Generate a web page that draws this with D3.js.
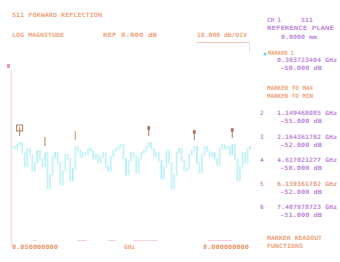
<!DOCTYPE html>
<html>
<head>
<meta charset="utf-8">
<script src="https://cdn.jsdelivr.net/npm/d3@7"></script>
<style>
  html, body { margin: 0; padding: 0; background: #fff; }
  svg { display: block; }
  text { font-family: "DejaVu Sans Mono", monospace; font-weight: bold; font-size: 6px; }
</style>
</head>
<body>
<svg id="chart" width="340" height="262"></svg>
<script>
// sweep settings
const startGHz = 0.05;
const stopGHz = 8.0;
const refDb = 0;
const dbPerDiv = 10;

// S11 log magnitude trace, dB, one value per sweep point
const traceDb = [
  -52, -53, -51, -50, -55, -62, -53, -56, -64, -60,
  -54, -58, -62, -55, -73, -66, -57, -55, -60, -71,
  -64, -56, -58, -69, -63, -52, -54, -57, -55, -56,
  -53, -54, -58, -56, -60, -57, -55, -62, -64, -57,
  -54, -53, -52, -51, -58, -66, -59, -55, -57, -65,
  -58, -55, -54, -52, -50, -53, -57, -55, -59, -68,
  -62, -54, -60, -73, -66, -55, -53, -59, -64, -63,
  -56, -54, -52, -60, -65, -56, -52, -54, -57, -55,
  -58, -61, -53, -51, -53, -52, -56, -51, -58, -69,
  -62, -55, -60, -53, -52
];

// sweep point index of markers 1..6
const markerIdx = [3, 13, 25, 54, 72, 87];

const channelLines = ['CH 1', 'S11', 'REFERENCE PLANE', '0.0000 mm'];
const menuLines = ['MARKER TO MAX', 'MARKER TO MIN'];
const footLines = ['MARKER READOUT', 'FUNCTIONS'];

const orange = '#f0a47c';
const purple = '#c088dc';
const svg = d3.select('#chart');

const n = traceDb.length;
const freqAt = (i) => startGHz + i * (stopGHz - startGHz) / (n - 1);

const x = d3.scaleLinear().domain([startGHz, stopGHz]).range([12, 250]);
const y = d3.scaleLinear().domain([refDb, refDb - 10 * dbPerDiv]).range([42, 242]);

function label(txt, px, py, color, w) {
  const t = svg.append('text')
      .attr('x', px)
      .attr('y', py)
      .attr('fill', color)
      .text(txt);
  if (w) t.attr('textLength', w).attr('lengthAdjust', 'spacingAndGlyphs');
  return t;
}

// header
label('S11 FORWARD REFLECTION', 12, 17, orange, 90);
label('LOG MAGNITUDE', 12, 37, orange, 52);
label(`REF ${refDb.toFixed(3)} dB`, 103, 37, orange, 54);
label(`${dbPerDiv.toFixed(3)} dB/DIV`, 197, 37, orange, 50);

// graticule fragments
svg.append('line').attr('x1', 196).attr('x2', 249).attr('y1', 42.5).attr('y2', 42.5)
    .attr('stroke', '#f6c4b4').attr('stroke-width', 1);
svg.append('line').attr('x1', 249.5).attr('x2', 249.5).attr('y1', 42).attr('y2', 52)
    .attr('stroke', '#ecdcf0').attr('stroke-width', 1);
svg.append('line').attr('x1', 11.5).attr('x2', 11.5).attr('y1', 70).attr('y2', 246)
    .attr('stroke', '#f8dce6').attr('stroke-width', 1.5);
svg.append('rect').attr('x', 7).attr('y', 64).attr('width', 3).attr('height', 4)
    .attr('fill', '#f490bc');
[[33, 37], [77, 87], [108, 116], [133, 157], [208, 232]].forEach(([a, b]) => {
  svg.append('line').attr('x1', a).attr('x2', b).attr('y1', 240.5).attr('y2', 240.5)
      .attr('stroke', '#f8d0e2').attr('stroke-width', 1);
});

// trace
const pts = traceDb.map((v, i) => [x(freqAt(i)), y(v)]);
svg.append('path')
    .datum(pts)
    .attr('fill', 'none')
    .attr('stroke', '#bff2f6')
    .attr('stroke-width', 0.6)
    .attr('opacity', 0.25)
    .attr('d', d3.line());
svg.append('g').selectAll('rect')
    .data(traceDb)
    .join('rect')
    .attr('x', (v, i) => x(freqAt(i)) - 0.8)
    .attr('width', 1.8)
    .attr('y', (v, i) => y(Math.max(v, traceDb[Math.max(i - 1, 0)])))
    .attr('height', (v, i) => Math.abs(y(v) - y(traceDb[Math.max(i - 1, 0)])) + 1.5)
    .attr('fill', (v, i) => (i % 7 === 3 ? '#86e4e8' : '#a4eaf4'))
    .attr('opacity', 0.6);

// markers
const mk = svg.append('g');
markerIdx.forEach((idx, k) => {
  const mx = x(freqAt(idx));
  const my = y(traceDb[idx]);
  mk.append('line')
      .attr('x1', mx).attr('x2', mx)
      .attr('y1', my - 15).attr('y2', my - 6)
      .attr('stroke', k === 2 ? '#dca87c' : '#b8947a')
      .attr('stroke-width', 1.2);
  if (k === 0) {
    mk.append('rect')
        .attr('x', mx - 3).attr('y', my - 17)
        .attr('width', 6).attr('height', 6)
        .attr('fill', 'none').attr('stroke', '#ad8a70').attr('stroke-width', 1.1);
  } else if (k > 2) {
    mk.append('ellipse')
        .attr('cx', mx).attr('cy', my - 14)
        .attr('rx', 1.6).attr('ry', 2.2)
        .attr('fill', '#a87c66');
  }
});

// right panel
label(channelLines[0], 267, 22, purple, 14);
label(channelLines[1], 301, 22, purple, 12);
label(channelLines[2], 267, 30, purple, 67);
label(channelLines[3], 281, 39, purple, 36);

svg.append('circle').attr('cx', 265).attr('cy', 54).attr('r', 1.5).attr('fill', '#6ccce8');
label('MARKER 1', 268, 55, orange, 26);
label(`${freqAt(markerIdx[0]).toFixed(9)} GHz`, 277, 62, purple, 60);
label(`${traceDb[markerIdx[0]].toFixed(3)} dB`, 280, 70, purple, 42);

label(menuLines[0], 267, 90, orange, 46);
label(menuLines[1], 267, 98, orange, 46);

const rowColors = [purple, purple, '#c478cc', '#dc94a4', '#c478d4'];
markerIdx.slice(1).forEach((idx, k) => {
  const ry = 115 + k * 23.5;
  label(String(k + 2), 260, ry, rowColors[k]);
  label(`${freqAt(idx).toFixed(9)} GHz`, 277, ry, k === 3 ? '#e69c88' : purple, 60);
  label(`${traceDb[idx].toFixed(3)} dB`, 280, ry + 8, purple, 42);
});

label(footLines[0], 267, 240, orange, 55);
label(footLines[1], 267, 248, orange, 36);

// start / stop
label(startGHz.toFixed(9), 12, 249, '#ea9466', 46);
label('GHz', 124, 249, orange, 11);
label(stopGHz.toFixed(9), 203, 249, '#ea9466', 46);
</script>
</body>
</html>
